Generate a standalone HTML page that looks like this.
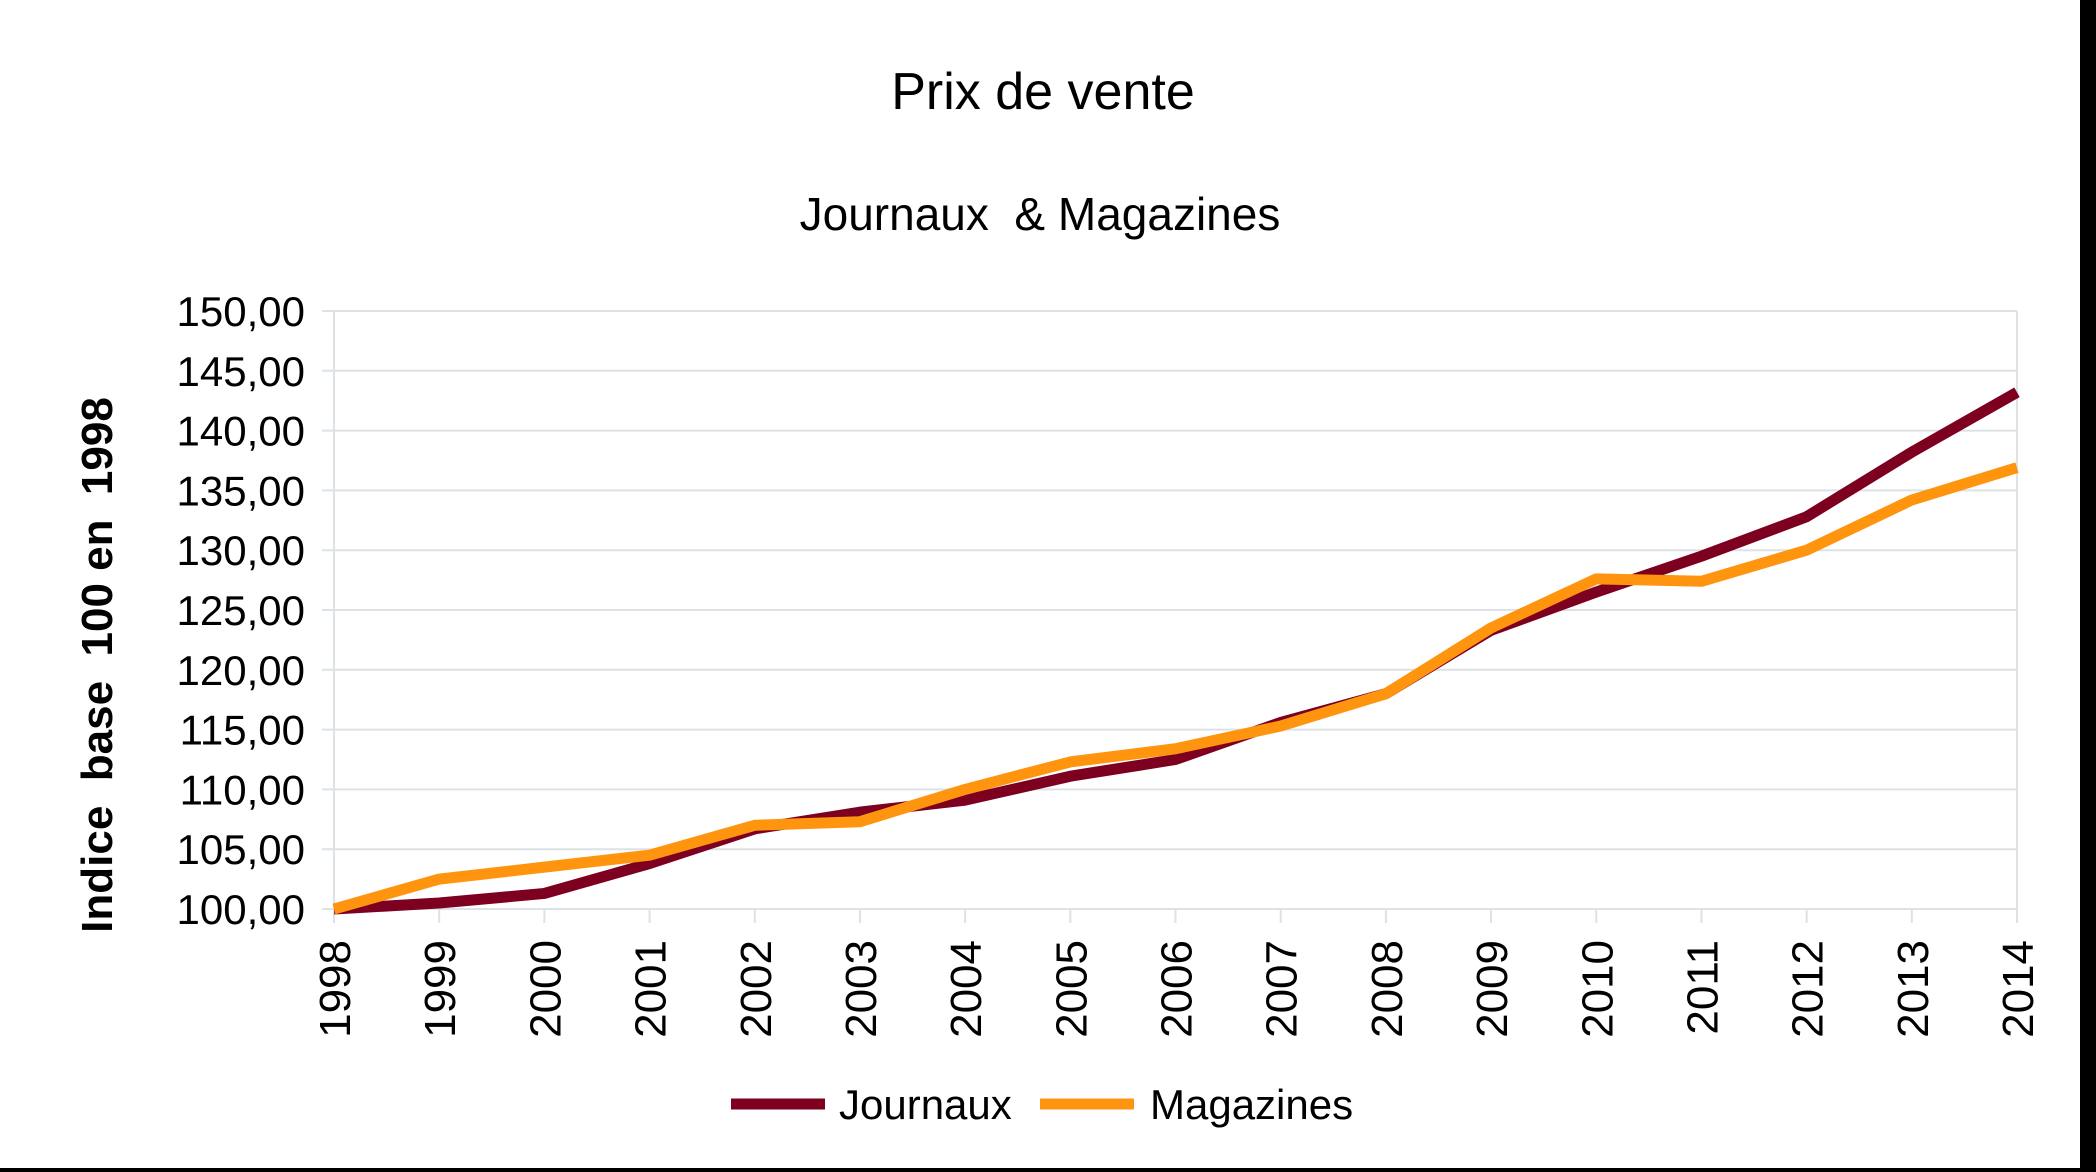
<!DOCTYPE html>
<html><head><meta charset="utf-8"><style>
html,body{margin:0;padding:0;background:#fff;}
svg{display:block;font-family:"Liberation Sans",sans-serif;}
</style></head><body>
<svg id="chart" width="2096" height="1172" viewBox="0 0 2096 1172">
<rect x="0" y="0" width="2096" height="1172" fill="#fff"/>
<rect x="2080" y="0" width="16" height="1172" fill="#000"/>
<rect x="0" y="1168" width="2096" height="4" fill="#000"/>
<text x="1043" y="109" font-size="52" text-anchor="middle" fill="#000">Prix de vente</text>
<text x="1040" y="230" font-size="46" text-anchor="middle" fill="#000" xml:space="preserve">Journaux  &amp; Magazines</text>
<text transform="translate(112,665) rotate(-90)" font-size="44" font-weight="bold" text-anchor="middle" fill="#000" xml:space="preserve">Indice  base  100 en  1998</text>
<g id="grid"></g>
<g id="yticks"></g>
<g id="xticks"></g>
<g id="series"></g>
<g>
<line x1="731" y1="1104" x2="825" y2="1104" stroke="#7e0021" stroke-width="11"/>
<text x="839" y="1119" font-size="42" fill="#000">Journaux</text>
<line x1="1040" y1="1104" x2="1134" y2="1104" stroke="#ff950e" stroke-width="11"/>
<text x="1150" y="1119" font-size="42" fill="#000">Magazines</text>
</g>
</svg>
<script>
const years = ["1998","1999","2000","2001","2002","2003","2004","2005","2006","2007","2008","2009","2010","2011","2012","2013","2014"];
const journaux = [100,100.5,101.3,103.8,106.7,108.1,109.1,111.1,112.5,115.6,118,123.3,126.5,129.5,132.8,138.2,143.2];
const magazines = [100,102.5,103.5,104.5,107,107.3,110,112.3,113.4,115.3,118,123.5,127.6,127.4,130,134.2,136.9];
const yTicks = [100,105,110,115,120,125,130,135,140,145,150];
const yTickLabels = ["100,00","105,00","110,00","115,00","120,00","125,00","130,00","135,00","140,00","145,00","150,00"];

const NS="http://www.w3.org/2000/svg";
const L=334,R=2017,T=311,B=909,yMin=100,yMax=150;
function xs(i){return L+(R-L)*i/(years.length-1);}
function ys(v){return B-(v-yMin)/(yMax-yMin)*(B-T);}
function mk(tag,attrs,parent){const e=document.createElementNS(NS,tag);for(const k in attrs)e.setAttribute(k,attrs[k]);parent.appendChild(e);return e;}
const grid=document.getElementById('grid'),yt=document.getElementById('yticks'),xt=document.getElementById('xticks'),ser=document.getElementById('series');
const la=mk('line',{x1:L,x2:L,y1:T,y2:B,stroke:'#dde2e6','stroke-width':2},grid);


const ra=mk('line',{x1:R,x2:R,y1:T,y2:B,stroke:'#dde2e6','stroke-width':2},grid);


yTicks.forEach((v,i)=>{
  const g=mk('line',{x1:L-12,x2:R,y1:ys(v),y2:ys(v),stroke:'#dde2e6','stroke-width':2},grid);
  
  
  const t=mk('text',{x:305,y:ys(v)+15,'font-size':42,'text-anchor':'end',fill:'#000'},yt);
  t.textContent=yTickLabels[i];
  
  
});
years.forEach((y,i)=>{
  const g=mk('line',{x1:xs(i),x2:xs(i),y1:B,y2:B+14,stroke:'#dde2e6','stroke-width':2},grid);
  
  
  const t=mk('text',{transform:`translate(${xs(i)+16},940) rotate(-90)`,'font-size':44,'text-anchor':'end',fill:'#000'},xt);
  t.textContent=y;
  
  
});
function line(data,color,name){
  const p=mk('polyline',{points:data.map((v,i)=>xs(i)+','+ys(v)).join(' '),fill:'none',stroke:color,'stroke-width':11,'stroke-linejoin':'round'},ser);
  
  
}
line(journaux,'#7e0021','series-journaux');
line(magazines,'#ff950e','series-magazines');
</script>
</body></html>
